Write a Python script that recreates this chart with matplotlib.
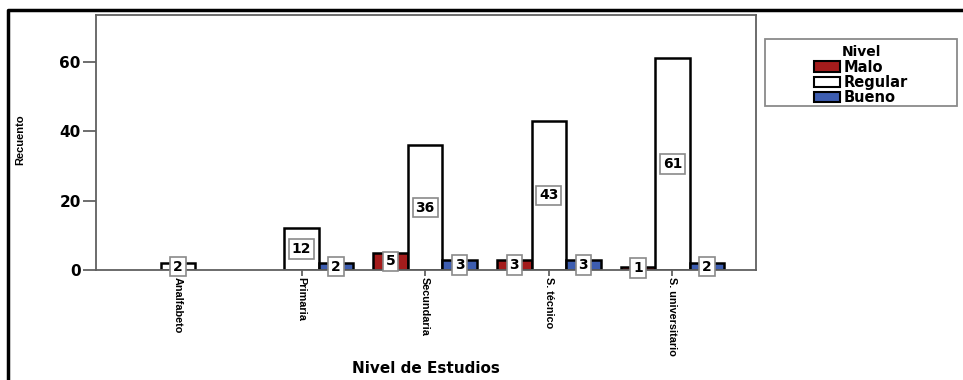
import numpy as np
import matplotlib
matplotlib.use('Agg')
import matplotlib.pyplot as plt
from matplotlib.patches import Patch, Rectangle
from matplotlib.lines import Line2D

# Recuento por nivel de estudios y nivel
categorias = ['Analfabeto', 'Primaria', 'Secundaria', 'S. técnico', 'S. universitario']
niveles = ['Malo', 'Regular', 'Bueno']
malo = [0, 0, 5, 3, 1]
regular = [2, 12, 36, 43, 61]
bueno = [0, 2, 3, 3, 2]
colores = ['#a41c1c', '#ffffff', '#3d5db0']

ancho = 0.279
ancho_font = ['DejaVu Sans']
narrow_font = ['Liberation Sans', 'DejaVu Sans']

fig = plt.figure(figsize=(9.63, 3.80), dpi=100)
ax = fig.add_axes([96/963, 1-270/380, 660/963, 255/380])

x = np.arange(len(categorias))
series = [malo, regular, bueno]
for k, (vals, col) in enumerate(zip(series, colores)):
    off = (k - 1) * ancho
    for i, v in enumerate(vals):
        if v == 0:
            continue
        ax.bar(x[i] + off, v, width=ancho, color=col, edgecolor='black',
               linewidth=1.8, zorder=2)
        ax.text(x[i] + off, v / 2, str(v), ha='center', va='center',
                fontsize=10, fontweight='bold', family=ancho_font, zorder=4,
                bbox=dict(boxstyle='square,pad=0.2', facecolor='white',
                          edgecolor='#8a8a8a', linewidth=1.2))

ax.set_xlim(-0.663, 4.676)
ax.set_ylim(0, 73.5)
ax.set_yticks([0, 20, 40, 60])
ax.set_yticklabels(['0', '20', '40', '60'], fontsize=11, fontweight='bold',
                   family=ancho_font)
ax.set_xticks(x)
ax.set_xticklabels(categorias, rotation=270, fontsize=7.8, fontweight='bold',
                   family=narrow_font, va='top', ha='center')
ax.tick_params(axis='y', length=9.5, width=1.2, color='#555555', pad=1.5)
ax.tick_params(axis='x', length=4, width=1.2, color='#555555', pad=1)
for s in ax.spines.values():
    s.set_color('#606060')
    s.set_linewidth(1.3)

ax.set_ylabel('Recuento', fontsize=8, fontweight='bold', family=narrow_font)
ax.yaxis.set_label_coords(-0.1076, 0.51)
ax.set_xlabel('Nivel de Estudios', fontsize=11, fontweight='bold',
              family=ancho_font)
ax.xaxis.set_label_coords(0.5, -0.355)

# leyenda con marco propio
fig.patches.append(Rectangle((765/963, 1-106/380), 192/963, 67/380,
                             transform=fig.transFigure, facecolor='white',
                             edgecolor='#8a8a8a', linewidth=1.3))
handles = [Patch(facecolor=c, edgecolor='black', linewidth=1.5) for c in colores]
leg = fig.legend(handles, niveles, title='Nivel', loc='upper center',
                 bbox_to_anchor=(861/963, 1-33/380), frameon=False,
                 prop={'weight': 'bold', 'size': 10.5, 'family': ancho_font},
                 handlelength=1.75, handleheight=0.72, handletextpad=0.25,
                 labelspacing=0.02, borderpad=0.35)
leg.get_title().set_fontweight('bold')
leg.get_title().set_fontsize(10)
leg.get_title().set_family(ancho_font)

# marco exterior
fig.add_artist(Line2D([8/963, 8/963, 1.0], [0, 1-10/380, 1-10/380],
                      transform=fig.transFigure, color='black', linewidth=2.5))

fig.savefig('out.png', dpi=100)
